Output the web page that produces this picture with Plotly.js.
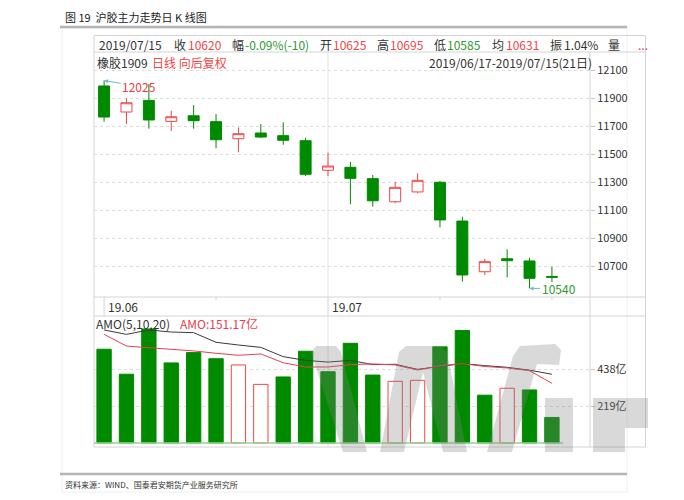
<!DOCTYPE html>
<html>
<head>
<meta charset="utf-8">
<script src="https://cdn.plot.ly/plotly-3.0.1.min.js"></script>
<style>html,body{margin:0;padding:0;background:#fff;}#chart{width:684px;height:500px;}</style>
</head>
<body>
<div id="chart"></div>
<script>
// ---- data ----
const dates = ['2019-06-17','2019-06-18','2019-06-19','2019-06-20','2019-06-21','2019-06-24','2019-06-25','2019-06-26','2019-06-27','2019-06-28','2019-07-01','2019-07-02','2019-07-03','2019-07-04','2019-07-05','2019-07-08','2019-07-09','2019-07-10','2019-07-11','2019-07-12','2019-07-15'];
const openP  = [11986, 11800, 11883, 11733, 11773, 11731, 11609, 11650, 11631, 11595, 11384, 11405, 11324, 11159, 11229, 11298, 11021, 10659, 10752, 10736, 10625];
const highP  = [12025, 11898, 12000, 11809, 11850, 11786, 11690, 11714, 11726, 11616, 11509, 11443, 11350, 11302, 11362, 11307, 11052, 10750, 10819, 10759, 10695];
const lowP   = [11731, 11714, 11681, 11664, 11681, 11541, 11512, 11614, 11566, 11343, 11343, 11141, 11124, 11148, 11219, 10976, 10588, 10636, 10619, 10540, 10585];
const closeP = [11764, 11866, 11743, 11766, 11738, 11602, 11645, 11621, 11598, 11355, 11414, 11326, 11166, 11262, 11312, 11029, 10636, 10731, 10738, 10612, 10620];
const amo     = [555, 407, 675, 474, 535, 499, 462, 347, 391, 543, 422, 590, 402, 365, 371, 569, 666, 283, 324, 314, 151.17];
const amoRise = [0,0,0,0,0,0,1,1,0,0,0,0,0,1,1,0,0,0,1,0,0];
const amoMa5  = [643, 574, 564, 555, 545, 531, 519, 527, 475, 450, 450, 464, 468, 462, 432, 457, 470, 453, 444, 428, 353];
const amoMa10 = [669, 643, 669, 657, 653, 596, 580, 566, 511, 489, 479, 489, 464, 466, 436, 455, 470, 458, 448, 431, 407];
const priceTicks = [10700, 10900, 11100, 11300, 11500, 11700, 11900, 12100];
const priceTickText = ['10700', '10900', '11100', '11300', '11500', '11700', '11900', '12100'];
const amoTicks = [219, 438];
const amoTickText = ['219亿', '438亿'];
const monthLabels = ['19.06', '19.07'];
const monthStarts = ['2019-06-17', '2019-07-01'];
const weekStarts = ['2019-06-24', '2019-07-08', '2019-07-15'];
const maxLabel = '12025', minLabel = '10540';
const maxDate = '2019-06-17', minDate = '2019-07-12';

// ---- style ----
const RED = '#f04646', GREEN = '#008a00', TXT = '#333333', FR = '#d4d4d4';
const FONT = '"Noto Sans CJK SC", "Noto Sans", sans-serif';
const W = 684, H = 500;
const X = p => p / W, Y = p => 1 - p / H;
const idx = d => dates.indexOf(d);

const traces = [
  {type:'candlestick', x:dates, open:openP, high:highP, low:lowP, close:closeP,
   xaxis:'x', yaxis:'y', whiskerwidth:0, hoverinfo:'skip',
   increasing:{line:{color:RED, width:1}, fillcolor:'#ffffff'},
   decreasing:{line:{color:GREEN, width:1}, fillcolor:GREEN}},
  {type:'bar', x:dates, y:amo, xaxis:'x2', yaxis:'y2', hoverinfo:'skip',
   marker:{color:amoRise.map(r => r ? '#ffffff' : GREEN), line:{color:amoRise.map(r => r ? RED : GREEN), width:1}}},
  {type:'scatter', mode:'lines', x:dates, y:amoMa10, xaxis:'x2', yaxis:'y2', line:{color:'#3a3a3a', width:1}, hoverinfo:'skip'},
  {type:'scatter', mode:'lines', x:dates, y:amoMa5, xaxis:'x2', yaxis:'y2', line:{color:'#e8404f', width:1}, hoverinfo:'skip'}
];

const xr = [-0.45, 21.7];
const shapes = [];
const seg = (x0,y0,x1,y1,color,width,layer) => ({type:'line', xref:'paper', yref:'paper', x0:X(x0), y0:Y(y0), x1:X(x1), y1:Y(y1), line:{color:color, width:width}, layer:layer||'below'});
// page lines
shapes.push({type:'rect', xref:'paper', yref:'paper', x0:X(62), y0:Y(492), x1:X(627), y1:Y(28), line:{color:'#f0f0f0', width:1}, layer:'below'});
shapes.push(seg(60,27,627,27,'#b4b4b4',2.5,'above'));
shapes.push(seg(60,474,627,474,'#b4b4b4',2.5,'above'));
// frame
shapes.push({type:'rect', xref:'paper', yref:'paper', x0:X(94), y0:Y(447), x1:X(645.5), y1:Y(35.5), line:{color:FR, width:1}, layer:'below'});
shapes.push(seg(94,52,645.5,52,FR,1));
shapes.push(seg(94,297,645.5,297,FR,1));
shapes.push(seg(94,316,645.5,316,FR,1));
shapes.push(seg(590,52,590,447,FR,1));
// month separators and grid lines
monthStarts.forEach((d,k) => {
  shapes.push({type:'line', xref:'x', yref:'paper', x0:idx(d), x1:idx(d), y0:Y(316), y1:Y(297), line:{color:FR, width:1}, layer:'below'});
  if (k > 0) {
    shapes.push({type:'line', xref:'x', yref:'paper', x0:idx(d), x1:idx(d), y0:Y(297), y1:Y(52), line:{color:'#e2e2e2', width:1}, layer:'below'});
    shapes.push({type:'line', xref:'x', yref:'paper', x0:idx(d), x1:idx(d), y0:Y(447), y1:Y(316), line:{color:'#e2e2e2', width:1}, layer:'below'});
  }
});
weekStarts.forEach(d => {
  shapes.push({type:'line', xref:'x', yref:'paper', x0:idx(d), x1:idx(d), y0:Y(300), y1:Y(297), line:{color:FR, width:1}, layer:'below'});
});
// volume base line
shapes.push({type:'line', xref:'x2', yref:'y2', x0:-0.45, x1:dates.length - 0.5, y0:0, y1:0, line:{color:'#8fd68f', width:1.5}, layer:'above'});
// watermark
const poly = pts => 'M' + pts.map(p => X(p[0]).toFixed(4) + ',' + Y(p[1]).toFixed(4)).join(' L') + ' Z';
const wm = [
  [[311,352],[316,346],[336,346],[341,352],[367,452],[343,452]],
  [[380,452],[399,352],[406,346],[440,346],[447,352],[467,452],[443,452],[423,372],[404,452]],
  [[487,452],[513,356],[520,346],[555,344],[561,350],[559,365],[537,364],[512,452]],
  [[545,398],[573,398],[573,452],[545,452]],
  [[593,398],[648,398],[648,428],[625,428],[625,452],[593,452]]
];
wm.forEach(p => shapes.push({type:'path', xref:'paper', yref:'paper', path:poly(p), fillcolor:'rgba(128,128,128,0.3)', line:{width:0}, layer:'above'}));

// ---- annotations ----
const ann = [];
const txt = (px, py, text, color, size, anchor, extra) => ann.push(Object.assign({xref:'paper', yref:'paper', x:X(px), y:Y(py), text:text, showarrow:false, xanchor:anchor||'left', yanchor:'middle', font:{family:FONT, size:size||12, color:color||TXT}}, extra||{}));
txt(63, 17, '图 19  沪胶主力走势日 K 线图', '#222', 11);
txt(63, 484, '资料来源：WIND、国泰君安期货产业服务研究所', '#333', 8);
// header row 1
const hdr = [
  [97,'2019/07/15',TXT],[172,'收',TXT],[186,'10620',RED],[230,'幅',TXT],[243,'-0.09%(-10)','#2e9a2e'],
  [318,'开',TXT],[331,'10625',RED],[375,'高',TXT],[388,'10695',RED],[432,'低',TXT],[445,'10585','#2e9a2e'],
  [490,'均',TXT],[504,'10631',RED],[548,'振',TXT],[562,'1.04%',TXT],[606,'量',TXT],[636,'...',RED]
];
hdr.forEach(h => txt(h[0], 45, h[1], h[2], 12));
// header row 2
txt(95, 62.5, '橡胶1909', TXT, 12);
txt(150, 62.5, '日线 向后复权', RED, 12);
txt(594, 62.5, '2019/06/17-2019/07/15(21日)', TXT, 12, 'right');
// volume header
txt(94, 323, 'AMO(5,10,20)', TXT, 12);
txt(178, 323, 'AMO:151.17亿', '#e8404f', 12);
// month labels
monthLabels.forEach((m,k) => ann.push({xref:'x', yref:'paper', x:idx(monthStarts[k]), y:Y(306.5), text:m, showarrow:false, xanchor:'left', yanchor:'middle', xshift:2, font:{family:FONT, size:12, color:TXT}}));
// extreme labels
ann.push({xref:'x', yref:'y', x:idx(maxDate), y:Math.max(...highP), text:maxLabel, showarrow:true, ax:35, ay:6, arrowcolor:'#6ab8d8', arrowwidth:1, arrowhead:2, arrowsize:0.8, standoff:0, font:{family:FONT, size:12, color:'#e84040'}});
ann.push({xref:'x', yref:'y', x:idx(minDate), y:Math.min(...lowP), text:minLabel, showarrow:true, ax:29, ay:0, arrowcolor:'#6ab8d8', arrowwidth:1, arrowhead:2, arrowsize:0.8, standoff:0, font:{family:FONT, size:12, color:'#2e9a2e'}});

const layout = {
  width:W, height:H, margin:{l:0, r:0, t:0, b:0}, paper_bgcolor:'#ffffff', plot_bgcolor:'rgba(0,0,0,0)',
  showlegend:false, hovermode:false, boxgap:0.3, bargap:0.36,
  font:{family:FONT, size:12, color:TXT},
  xaxis:{domain:[X(94), X(590)], type:'category', range:xr, anchor:'y', showgrid:false, showticklabels:false, zeroline:false, showline:false, ticks:'', rangeslider:{visible:false}, fixedrange:true},
  yaxis:{domain:[Y(297), Y(52)], range:[10478.6, 12228.6], side:'right', anchor:'x', tickvals:priceTicks, ticktext:priceTickText, ticks:'outside', ticklen:4, tickcolor:'#c8c8c8', showgrid:true, gridcolor:'#dcdcdc', griddash:'dot', zeroline:false, showline:false, tickfont:{family:FONT, size:11, color:TXT}, fixedrange:true},
  xaxis2:{domain:[X(94), X(590)], type:'category', range:xr, anchor:'y2', showgrid:false, showticklabels:false, zeroline:false, showline:false, ticks:'', fixedrange:true},
  yaxis2:{domain:[Y(447), Y(316)], range:[-23.7, 751.7], side:'right', anchor:'x2', tickvals:amoTicks, ticktext:amoTickText, ticks:'outside', ticklen:4, tickcolor:'#c8c8c8', showgrid:true, gridcolor:'#dcdcdc', griddash:'dot', zeroline:false, showline:false, tickfont:{family:FONT, size:11, color:TXT}, fixedrange:true},
  shapes:shapes, annotations:ann
};
Plotly.newPlot('chart', traces, layout, {displayModeBar:false, staticPlot:true});
</script>
</body>
</html>
